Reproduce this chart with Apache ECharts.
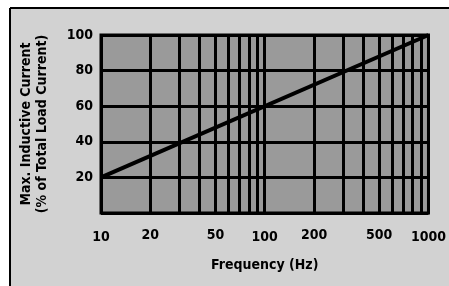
<!DOCTYPE html>
<html>
<head>
<meta charset="utf-8">
<script src="https://cdn.jsdelivr.net/npm/echarts@6/dist/echarts.min.js"></script>
<style>
  html, body { margin: 0; padding: 0; background: #fff; }
  #chart { width: 449px; height: 286px; }
</style>
</head>
<body>
<div id="chart"></div>
<script>
// frequency (Hz) vs max inductive current (% of total load current)
const freq = [10, 1000]
const current = [20, 100]
// extra vertical grid lines between the decades
const xGrid = [20, 30, 40, 50, 60, 70, 80, 90, 200, 300, 400, 500, 600, 700, 800, 900]
// in-between tick labels (decades come from the log axis itself)
const xExtraLabels = [20, 50, 200, 500]
const yTicks = [0, 20, 40, 60, 80, 100]

const font = '"DejaVu Sans Condensed", "Liberation Sans", sans-serif'

const chart = echarts.init(document.getElementById('chart'))

chart.setOption({
  animation: false,
  graphic: [
    // page background inside the scan frame
    { type: 'rect', z: -10, shape: { x: 10, y: 8, width: 439, height: 278 }, style: { fill: '#d2d2d2' } },
    { type: 'line', z: 10, shape: { x1: 10, y1: 8, x2: 449, y2: 8 }, style: { stroke: '#000', lineWidth: 2 } },
    { type: 'line', z: 10, shape: { x1: 10, y1: 8, x2: 10, y2: 286 }, style: { stroke: '#000', lineWidth: 2 } }
  ],
  grid: {
    left: 101, right: 17, top: 35, bottom: 73,
    show: true,
    backgroundColor: '#9a9a9a',
    borderColor: '#000',
    borderWidth: 3
  },
  xAxis: {
    type: 'log',
    logBase: 10,
    min: 10,
    max: 1000,
    name: 'Frequency (Hz)',
    nameLocation: 'middle',
    nameGap: 45,
    nameTextStyle: { color: '#000', fontFamily: font, fontWeight: 'bold', fontSize: 14 },
    axisLine: { show: false },
    axisTick: { show: false },
    axisLabel: {
      color: '#000', fontFamily: font, fontWeight: 'bold', fontSize: 14, margin: 17,
      formatter: v => String(v)
    },
    splitLine: { show: true, lineStyle: { color: '#000', width: 3 } }
  },
  yAxis: {
    type: 'value',
    min: yTicks[0],
    max: yTicks[yTicks.length - 1],
    interval: 20,
    name: 'Max. Inductive Current\n(% of Total Load Current)',
    nameLocation: 'middle',
    nameGap: 51,
    nameRotate: 90,
    nameTextStyle: { color: '#000', fontFamily: font, fontWeight: 'bold', fontSize: 14, lineHeight: 16 },
    axisLine: { show: false },
    axisTick: { show: false },
    axisLabel: {
      color: '#000', fontFamily: font, fontWeight: 'bold', fontSize: 14, margin: 8,
      formatter: v => (v === 0 ? '' : String(v))
    },
    splitLine: { show: true, lineStyle: { color: '#000', width: 3 } }
  },
  series: [{
    type: 'line',
    data: freq.map((f, i) => [f, current[i]]),
    symbol: 'none',
    lineStyle: { color: '#000', width: 4 },
    z: 5,
    markLine: {
      silent: true,
      symbol: 'none',
      animation: false,
      lineStyle: { color: '#000', width: 3, type: 'solid' },
      data: xGrid.map(v => ({
        xAxis: v,
        label: {
          show: xExtraLabels.includes(v),
          position: 'start',
          distance: 15,
          formatter: String(v),
          color: '#000', fontFamily: font, fontWeight: 'bold', fontSize: 14
        }
      }))
    }
  }]
})
</script>
</body>
</html>
